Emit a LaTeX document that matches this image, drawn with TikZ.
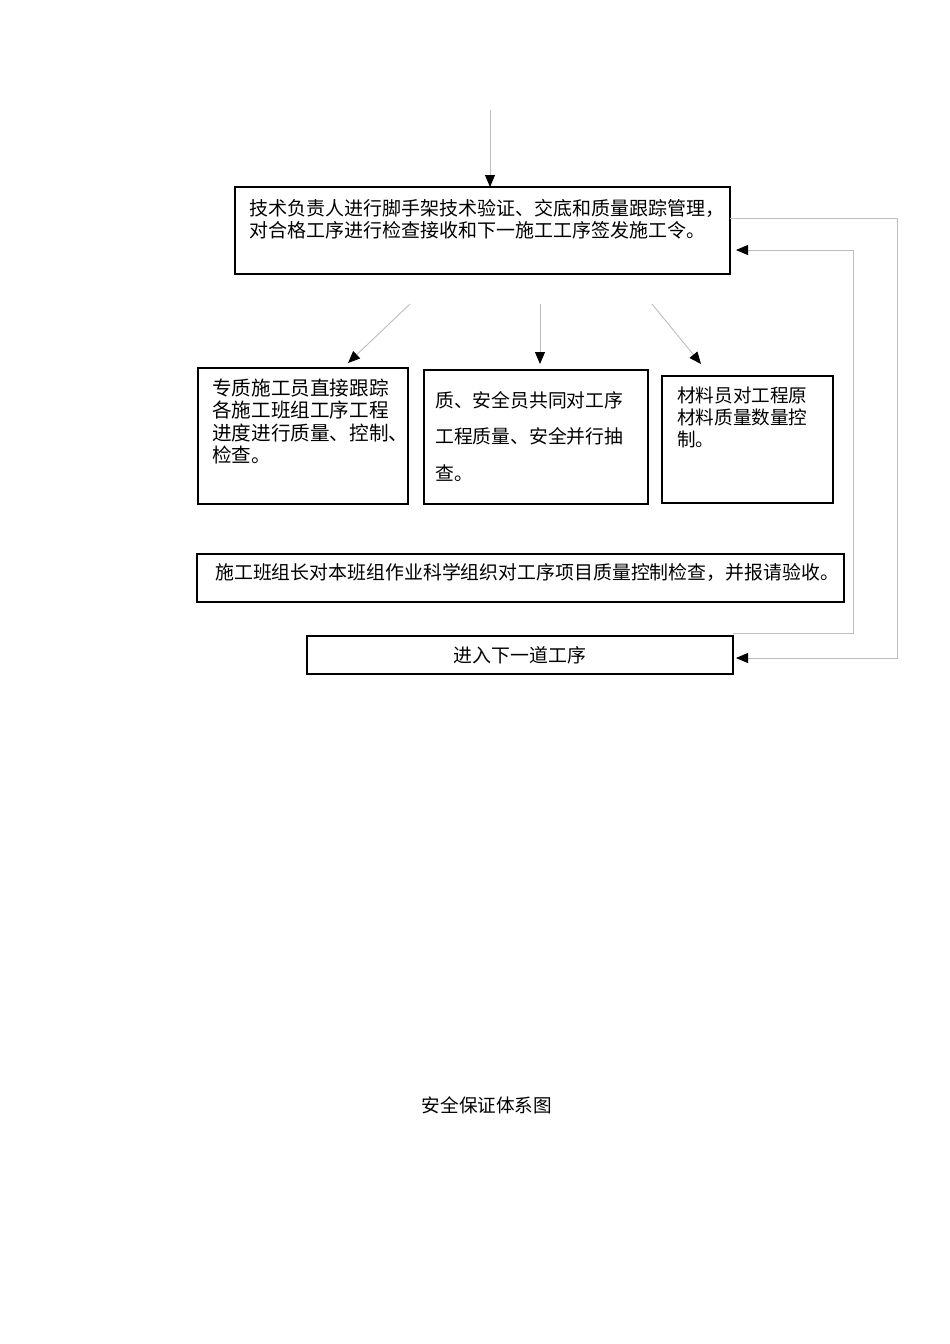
\documentclass[tikz,border=0pt]{standalone}
\usepackage{fontspec}
\newfontfamily\cjk{Noto Sans CJK SC}
\usetikzlibrary{arrows.meta,calc}
\definecolor{connc}{RGB}{190,190,190}
\tikzset{
  box/.style={draw=black, line width=2pt, inner sep=0pt, outer sep=0pt, anchor=north west},
  txt/.style={inner sep=0pt, anchor=west, align=left, text=black},
  conn/.style={draw=connc, line width=0.9pt, -{Triangle[length=12pt,width=10pt,color=black]}},
}
\begin{document}
\begin{tikzpicture}[x=1pt,y=-1pt]
\fill[white] (0,0) rectangle (950,1344);
\useasboundingbox (0,0) rectangle (950,1344);

% boxes
\node[box, minimum width=495pt, minimum height=87pt] (A) at (235,187) {};
\node[box, minimum width=210pt, minimum height=136pt] (B1) at (198,368) {};
\node[box, minimum width=224pt, minimum height=134pt] (B2) at (424,370) {};
\node[box, minimum width=171pt, minimum height=127pt] (B3) at (662,376) {};
\node[box, minimum width=647pt, minimum height=48pt] (C) at (197,554) {};
\node[box, minimum width=426pt, minimum height=38pt] (D) at (307,636) {};

% texts
\node[txt, font=\cjk\fontsize{19}{22}\selectfont] (At) at (249,219)
  {技术负责人进行脚手架技术验证、交底和质量跟踪管理，\\对合格工序进行检查接收和下一施工工序签发施工令。};
\node[txt, font=\cjk\fontsize{19.6}{22.3}\selectfont] (B1t) at (212,421.5)
  {专质施工员直接跟踪\\各施工班组工序工程\\进度进行质量、控制、\\检查。};
\node[txt, font=\cjk\fontsize{18.8}{36.5}\selectfont] (B2t) at (435,436.5)
  {质、安全员共同对工序\\工程质量、安全并行抽\\查。};
\node[txt, font=\cjk\fontsize{18.6}{22}\selectfont] (B3t) at (677,417)
  {材料员对工程原\\材料质量数量控\\制。};
\node[txt, font=\cjk\fontsize{18.9}{22}\selectfont] (Ct) at (215,572)
  {施工班组长对本班组作业科学组织对工序项目质量控制检查，并报请验收。};
\node[inner sep=0pt, font=\cjk\fontsize{18.9}{22}\selectfont] (Dt) at (D.center) {进入下一道工序};
\node[inner sep=0pt, font=\cjk\fontsize{18.6}{22}\selectfont] (title) at (487,1105) {安全保证体系图};

% connectors
\coordinate (top) at (490,110);
\draw[conn] (top) -- (top |- A.north);

\coordinate (s1) at (410,304);
\coordinate (s2) at (540,304);
\coordinate (s3) at (652,304);
\coordinate (e1) at (348,363);
\coordinate (e2) at (540,364);
\coordinate (e3) at (701,364);
\draw[conn] (s1) -- (e1);
\draw[conn] (s2) -- (e2);
\draw[conn] (s3) -- (e3);

\coordinate (o1) at (897,218);
\coordinate (Dr) at (736,658);
\draw[conn] (A.east |- o1) -- (o1) -- (o1 |- Dr) -- (Dr);

\coordinate (i1) at (853,633);
\coordinate (Ar) at (736,250);
\draw[conn] (D.east |- i1) -- (i1) -- (i1 |- Ar) -- (Ar);
\end{tikzpicture}
\end{document}
